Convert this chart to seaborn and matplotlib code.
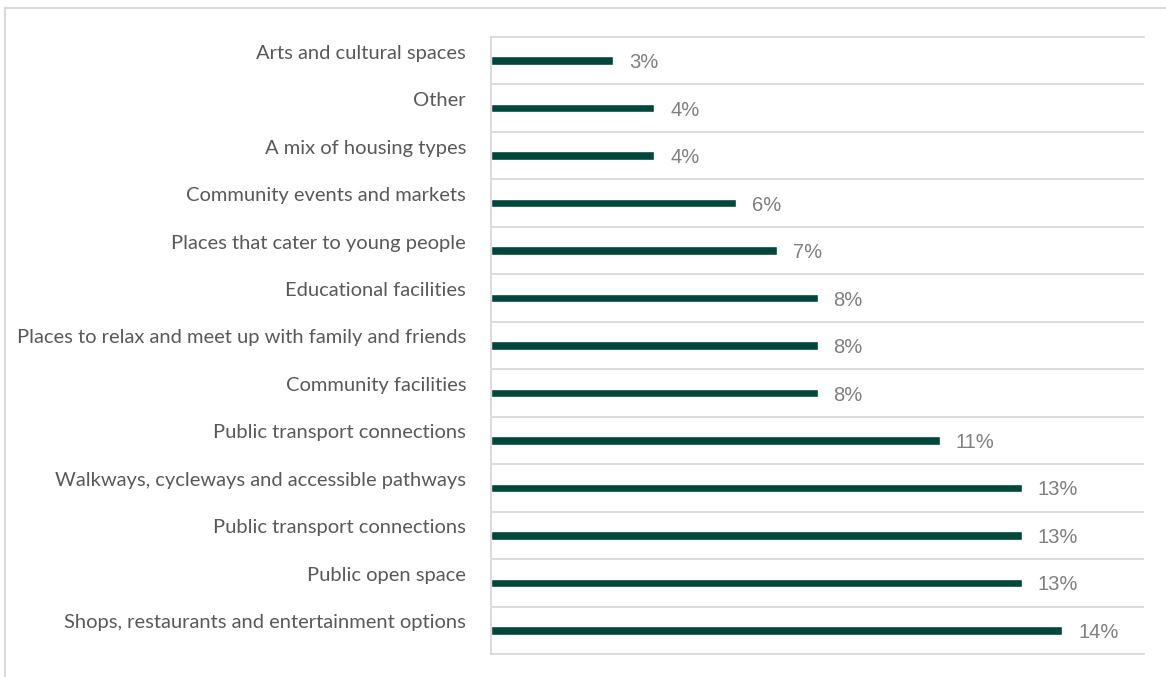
import matplotlib
matplotlib.use("Agg")
import matplotlib.pyplot as plt
from matplotlib.patches import Rectangle
from matplotlib.transforms import ScaledTranslation
import numpy as np
import pandas as pd
import seaborn as sns

categories = [
    "Arts and cultural spaces",
    "Other",
    "A mix of housing types",
    "Community events and markets",
    "Places that cater to young people",
    "Educational facilities",
    "Places to relax and meet up with family and friends",
    "Community facilities",
    "Public transport connections",
    "Walkways, cycleways and accessible pathways",
    "Public transport connections",
    "Public open space",
    "Shops, restaurants and entertainment options",
]
shares = [3, 4, 4, 6, 7, 8, 8, 8, 11, 13, 13, 13, 14]

BAR = "#00473a"
GRID = "#d9d9d9"
LABEL = "#595959"
VALUE = "#7f7f7f"

sns.set_theme(style="white")
plt.rcParams["font.family"] = ["Lato", "DejaVu Sans"]

W, H = 1166, 677
fig = plt.figure(figsize=(W / 100, H / 100), dpi=100)
ax = fig.add_axes([491 / W, 23 / H, (1144 - 491) / W, (654 - 37) / H])

# rows keyed by position so repeated labels stay separate bars
df = pd.DataFrame({"row": np.arange(len(categories)), "share": shares})
sns.barplot(data=df, x="share", y="row", orient="h", color=BAR,
            width=0.18, saturation=1, ax=ax)

ax.set_xlim(0, 16)
ax.set_ylim(len(categories) - 0.5, -0.5)
ax.set_xlabel("")
ax.set_ylabel("")
ax.set_xticks([])

# separators between rows
for k in range(1, len(categories)):
    ax.axhline(k - 0.5, color=GRID, lw=1.3, zorder=0)

for side in ("top", "bottom", "left"):
    ax.spines[side].set_visible(True)
    ax.spines[side].set_color(GRID)
    ax.spines[side].set_linewidth(1.3)
ax.spines["right"].set_visible(False)

ax.set_yticks(np.arange(len(categories)))
ax.set_yticklabels(categories, fontsize=14.5, color=LABEL)
ax.tick_params(axis="y", length=0, pad=18)
shift = ScaledTranslation(0, 9 / 100, fig.dpi_scale_trans)
for lbl in ax.get_yticklabels():
    lbl.set_transform(lbl.get_transform() + shift)

for i, v in enumerate(shares):
    ax.annotate(f"{v}%", xy=(v, i), xytext=(11.5, -1.5), textcoords="offset points",
                va="center", ha="left", fontsize=14.5, color=VALUE,
                family=["Liberation Sans", "DejaVu Sans"])

# outer frame
fig.patches.append(Rectangle((5, -20), W + 40, H - 8 + 20, transform=None,
                             fill=False, edgecolor=GRID, lw=1.5))

fig.savefig("out.png", dpi=100)
